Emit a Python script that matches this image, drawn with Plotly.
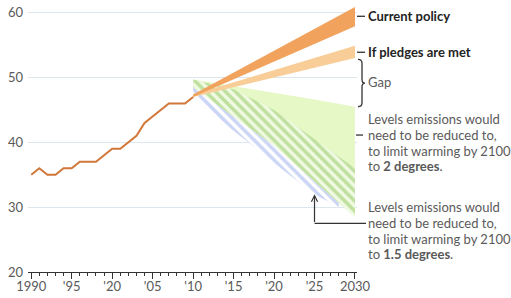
import plotly.graph_objects as go

# ---- data ----
hist_years = list(range(1990, 2011))
hist_values = [35, 36, 35, 35, 36, 36, 37, 37, 37, 38, 39, 39, 40, 41, 43, 44, 45, 46, 46, 46, 47]

proj_years = [2010, 2030]
policy_low = [47.0, 57.9]
policy_high = [47.4, 60.9]
pledge_low = [47.0, 53.0]
pledge_high = [47.4, 54.9]

two_deg_years = [2010, 2015, 2020, 2025, 2030]
two_deg_top = [49.7, 48.7, 47.6, 46.6, 45.5]
two_deg_hatch_top = [49.7, 48.2, 45.0, 40.5, 36.0]
two_deg_bottom = [48.5, 44.0, 39.5, 34.0, 28.5]

one5_years = [2010, 2015, 2020, 2025, 2028]
one5_top = [48.5, 44.0, 39.5, 34.0, 30.7]
one5_bottom = [47.0, 41.8, 36.8, 32.0, 30.0]

tick_years = [1990, 1995, 2000, 2005, 2010, 2015, 2020, 2025, 2030]
tick_labels = ["1990", "'95", "'20", "'05", "'10", "'15", "'20", "'25", "2030"]
y_ticks = [20, 30, 40, 50, 60]

arrow_year = 2025
arrow_tip = 32.0
arrow_base = 27.5

XMIN, XMAX = 1989.6, 2030.25
YMIN, YMAX = 20, 61.5

FONT = "Lato"
GREY = "#5a5a5a"
DARK = "#222222"


def poly(xs, upper, lower):
    return list(xs) + list(xs)[::-1], list(upper) + list(lower)[::-1]


fig = go.Figure()

# 1.5 degree hatched band
px_, py_ = poly(one5_years, one5_top, one5_bottom)
fig.add_trace(go.Scatter(x=px_, y=py_, fill="toself", mode="lines", line=dict(width=0),
                         fillcolor="rgba(0,0,0,0)",
                         fillpattern=dict(shape="\\", fgcolor="#cbd5f5", bgcolor="#ffffff",
                                          size=7, solidity=0.5),
                         hoverinfo="skip", showlegend=False))
# 2 degree solid area
px_, py_ = poly(two_deg_years, two_deg_top, two_deg_bottom)
fig.add_trace(go.Scatter(x=px_, y=py_, fill="toself", mode="lines", line=dict(width=0),
                         fillcolor="#e6f8c6", hoverinfo="skip", showlegend=False))
# 2 degree hatched part
px_, py_ = poly(two_deg_years, two_deg_hatch_top, two_deg_bottom)
fig.add_trace(go.Scatter(x=px_, y=py_, fill="toself", mode="lines", line=dict(width=0),
                         fillcolor="rgba(0,0,0,0)",
                         fillpattern=dict(shape="\\", fgcolor="#bfe09f", bgcolor="#f0fae2",
                                          size=7, solidity=0.5),
                         hoverinfo="skip", showlegend=False))
# pledges band
px_, py_ = poly(proj_years, pledge_high, pledge_low)
fig.add_trace(go.Scatter(x=px_, y=py_, fill="toself", mode="lines", line=dict(width=0),
                         fillcolor="#f8cd98", hoverinfo="skip", showlegend=False))
# current policy band
px_, py_ = poly(proj_years, policy_high, policy_low)
fig.add_trace(go.Scatter(x=px_, y=py_, fill="toself", mode="lines", line=dict(width=0),
                         fillcolor="#f1a25c", hoverinfo="skip", showlegend=False))
# history
fig.add_trace(go.Scatter(x=hist_years, y=hist_values, mode="lines",
                         line=dict(color="#d2773a", width=2), hoverinfo="skip", showlegend=False))

def px2paper(px):
    return (px - 28) / 329.0

TX = px2paper(366.0)
ann = []
shapes = []

def label(y, text, color=GREY, size=13):
    ann.append(dict(x=TX, y=y, xref="paper", yref="y", text=text, showarrow=False,
                    xanchor="left", yanchor="middle", font=dict(family=FONT, size=size, color=color)))

def dash(y, x0=357, x1=365):
    shapes.append(dict(type="line", xref="paper", yref="y", x0=px2paper(x0), x1=px2paper(x1),
                       y0=y, y1=y, line=dict(color="#333333", width=1.3)))

label(59.45, "<b>Current policy</b>", DARK)
dash(59.45)
label(53.9, "<b>If pledges are met</b>", DARK)
dash(53.9)
label(49.3, "Gap")

# brace between pledges and 2-degree top at 2030
yt, yb = pledge_low[-1] - 0.2, two_deg_top[-1]
ym = (yt + yb) / 2
xl, xm, xt = px2paper(358), px2paper(362), px2paper(365)
path = (f"M {xl},{yt} Q {xm},{yt} {xm},{yt-0.6} L {xm},{ym+0.6} Q {xm},{ym} {xt},{ym} "
        f"Q {xm},{ym} {xm},{ym-0.6} L {xm},{yb+0.6} Q {xm},{yb} {xl},{yb}")
shapes.append(dict(type="path", xref="paper", yref="y", path=path,
                   line=dict(color="#333333", width=1.3)))

block1 = ["Levels emissions would", "need to be reduced to,", "to limit warming by 2100",
          "to <b>2 degrees</b>."]
for i, t in enumerate(block1):
    label(43.55 - i * 2.42, t)
dash(43.55 - 2.42, 356, 363)

block2 = ["Levels emissions would", "need to be reduced to,", "to limit warming by 2100",
          "to <b>1.5 degrees</b>."]
for i, t in enumerate(block2):
    label(29.97 - i * 2.42, t)

# arrow: horizontal leg + vertical leg with head
ax_paper = (arrow_year - XMIN) / (XMAX - XMIN)
shapes.append(dict(type="line", xref="paper", yref="y", x0=ax_paper, x1=px2paper(366),
                   y0=arrow_base, y1=arrow_base, line=dict(color="#333333", width=1.2)))
ann.append(dict(x=arrow_year, y=arrow_tip, ax=arrow_year, ay=arrow_base, xref="x", yref="y",
                axref="x", ayref="y", text="", showarrow=True, arrowhead=5, arrowsize=1,
                arrowwidth=1.2, arrowcolor="#333333", standoff=0))

fig.update_layout(
    template="none",
    width=511, height=298,
    margin=dict(l=28, r=154, t=3, b=26, autoexpand=False),
    paper_bgcolor="white", plot_bgcolor="white",
    annotations=ann, shapes=shapes,
    font=dict(family=FONT, size=13, color=GREY),
)
fig.update_xaxes(range=[XMIN, XMAX], tickmode="array", tickvals=tick_years, ticktext=tick_labels,
                 automargin=False,
                 showgrid=False, zeroline=False, showline=True, linecolor="#333333", linewidth=1.3,
                 ticks="outside", ticklen=6, tickwidth=1.3, tickcolor="#333333",
                 ticklabelstandoff=-4,
                 tickfont=dict(family=FONT, size=13, color=GREY),
                 minor=dict(tickmode="linear", tick0=1990, dtick=1, ticks="outside", ticklen=3,
                            tickwidth=1, tickcolor="#333333"))
fig.update_yaxes(range=[YMIN, YMAX], tickmode="array", tickvals=y_ticks, showgrid=True,
                 automargin=False,
                 gridcolor="#dde8ee", gridwidth=1, zeroline=False, showline=False, ticks="",
                 ticklabelstandoff=4,
                 tickfont=dict(family=FONT, size=13, color=GREY))

fig.write_html("out.html", config={"displayModeBar": False},
               post_script="document.body.style.margin='0';document.body.style.overflow='hidden';")
